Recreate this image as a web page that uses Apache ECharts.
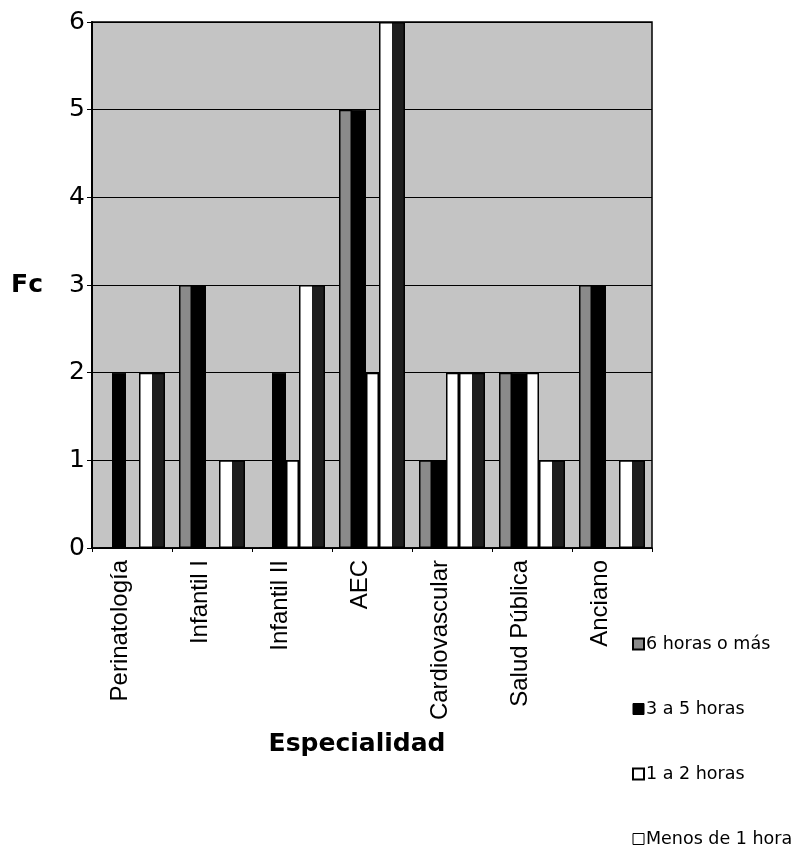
<!DOCTYPE html>
<html>
<head>
<meta charset="utf-8">
<script src="https://cdn.jsdelivr.net/npm/echarts@6/dist/echarts.min.js"></script>
<style>
  html, body { margin: 0; padding: 0; background: #fff; }
  #chart { width: 811px; height: 852px; }
</style>
</head>
<body>
<div id="chart"></div>
<script>
// Specialties on the horizontal axis
const especialidades = ['Perinatología', 'Infantil I', 'Infantil II', 'AEC', 'Cardiovascular', 'Salud Pública', 'Anciano'];

// Frequency (Fc) per specialty for each time band
const seisOMas   = [0, 3, 0, 5, 1, 2, 3];   // 6 horas o más
const tresACinco = [2, 3, 2, 5, 1, 2, 3];   // 3 a 5 horas
const unoADos    = [0, 0, 1, 2, 2, 2, 0];   // 1 a 2 horas
const menosDeUno = [2, 1, 3, 6, 2, 1, 1];   // Menos de 1 hora

const yTicks = [0, 1, 2, 3, 4, 5, 6];

const chart = echarts.init(document.getElementById('chart'), null, { renderer: 'canvas' });

const SANS = 'Liberation Sans, Arial, sans-serif';
const WIDE = 'DejaVu Sans, Verdana, sans-serif';

// two-tone fill: white face with dark shaded side
const splitFill = new echarts.graphic.LinearGradient(0, 0, 1, 0, [
  { offset: 0, color: '#ffffff' },
  { offset: 0.5, color: '#ffffff' },
  { offset: 0.5, color: '#1e1e1e' },
  { offset: 1, color: '#1e1e1e' }
]);

const option = {
  backgroundColor: '#ffffff',
  animation: false,
  textStyle: { fontFamily: SANS, color: '#000' },
  grid: {
    left: 92, right: 159, top: 22, bottom: 304,
    show: true,
    backgroundColor: '#c4c4c4',
    borderColor: '#000',
    borderWidth: 1.5
  },
  legend: {
    orient: 'vertical',
    left: 632,
    top: 634,
    height: 216,
    padding: 0,
    itemWidth: 11,
    itemHeight: 11,
    itemGap: 45,
    icon: 'rect',
    textStyle: { fontFamily: WIDE, fontSize: 17.5, lineHeight: 20, color: '#000', padding: [0, 0, 0, -3] },
    data: [
      { name: '6 horas o más', itemStyle: { color: '#8a8a8a', borderColor: '#000', borderWidth: 2 } },
      { name: '3 a 5 horas', itemStyle: { color: '#000', borderColor: '#000', borderWidth: 1 } },
      { name: '1 a 2 horas', itemStyle: { color: '#fff', borderColor: '#000', borderWidth: 2 } },
      { name: 'Menos de 1 hora', itemStyle: { color: '#fff', borderColor: '#000', borderWidth: 1 } }
    ]
  },
  xAxis: {
    type: 'category',
    data: especialidades,
    boundaryGap: true,
    name: 'Especialidad',
    nameLocation: 'middle',
    nameGap: 184,
    nameTextStyle: { fontFamily: WIDE, fontSize: 25, fontWeight: 'bold', color: '#000', padding: [0, 30, 0, 0] },
    axisLine: { show: true, lineStyle: { color: '#000', width: 1.5 } },
    axisTick: { show: true, length: 4, lineStyle: { color: '#000' } },
    axisLabel: {
      rotate: 90,
      interval: 0,
      margin: 12,
      fontFamily: SANS,
      fontSize: 24,
      lineHeight: 24,
      verticalAlign: 'bottom',
      color: '#000'
    },
    splitLine: { show: false }
  },
  yAxis: {
    type: 'value',
    min: 0,
    max: 6,
    interval: 1,
    name: 'Fc',
    nameLocation: 'middle',
    nameRotate: 0,
    nameGap: 49,
    nameTextStyle: { fontFamily: WIDE, fontSize: 25, fontWeight: 'bold', color: '#000' },
    axisLine: { show: true, lineStyle: { color: '#000', width: 2 } },
    axisTick: { show: true, inside: false, length: 5, lineStyle: { color: '#000' } },
    axisLabel: {
      margin: 7,
      fontFamily: WIDE,
      fontSize: 25,
      color: '#000',
      formatter: function (v) { return yTicks.indexOf(v) >= 0 ? String(v) : ''; }
    },
    splitLine: { show: true, lineStyle: { color: '#000', width: 1.2 } }
  },
  series: [
    {
      name: '6 horas o más', type: 'bar', data: seisOMas,
      barWidth: 13, barGap: '0%',
      itemStyle: { color: '#8a8a8a', borderColor: '#000', borderWidth: 1.5 }
    },
    {
      name: '3 a 5 horas', type: 'bar', data: tresACinco,
      barWidth: 14, barGap: '0%',
      itemStyle: { color: '#000', borderColor: '#000', borderWidth: 1 }
    },
    {
      name: '1 a 2 horas', type: 'bar', data: unoADos,
      barWidth: 13, barGap: '0%',
      itemStyle: { color: '#fff', borderColor: '#000', borderWidth: 1.5 }
    },
    {
      name: 'Menos de 1 hora', type: 'bar', data: menosDeUno,
      barWidth: 26, barGap: '0%',
      itemStyle: { color: splitFill, borderColor: '#000', borderWidth: 1.5 }
    }
  ]
};

chart.setOption(option);
</script>
</body>
</html>
